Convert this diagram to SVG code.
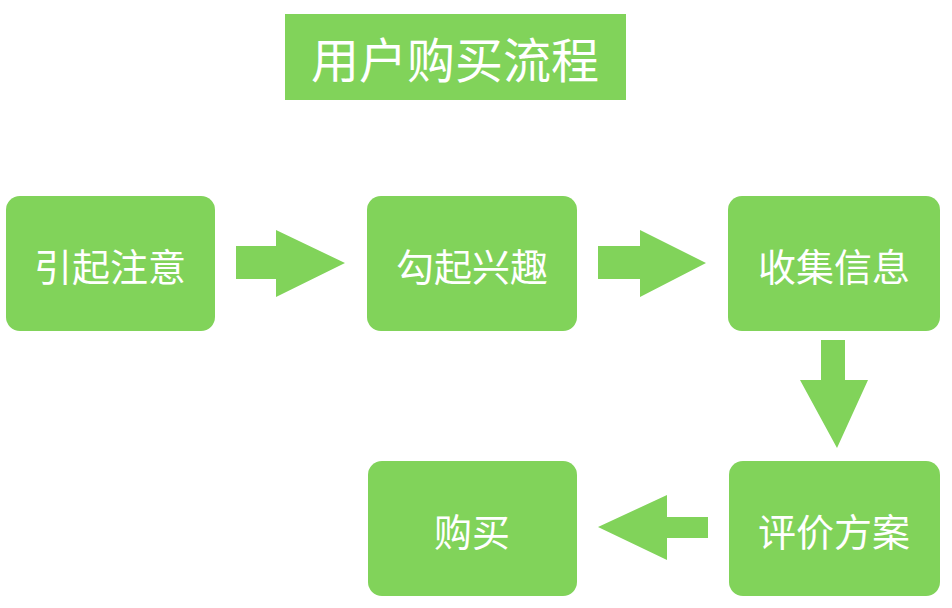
<svg xmlns="http://www.w3.org/2000/svg" width="952" height="608" viewBox="0 0 952 608">
<style>
.b{fill:#81d35a}
.t{fill:#fff;font-family:"Noto Sans CJK SC",sans-serif;font-size:38px;text-anchor:middle;dominant-baseline:central}
</style>
<rect width="952" height="608" fill="#fff"/>
<g id="title"><rect class="b" x="285" y="14" width="341" height="86"/><text class="t" x="455" y="57" style="font-size:48px">用户购买流程</text></g>
<g id="n1"><rect class="b" x="6" y="196" width="209" height="135" rx="14"/><text class="t" x="110" y="264">引起注意</text></g>
<g id="n2"><rect class="b" x="367" y="196" width="210" height="135" rx="14"/><text class="t" x="472" y="264">勾起兴趣</text></g>
<g id="n3"><rect class="b" x="728" y="196" width="212" height="135" rx="14"/><text class="t" x="834" y="264">收集信息</text></g>
<g id="n4"><rect class="b" x="729" y="461" width="211" height="135" rx="14"/><text class="t" x="834" y="529">评价方案</text></g>
<g id="n5"><rect class="b" x="368" y="461" width="209" height="135" rx="14"/><text class="t" x="472" y="529">购买</text></g>
<g id="connectors">
<polygon class="b" points="236,246 276,246 276,230 345,263 276,297 276,279 236,279"/>
<polygon class="b" points="598,246 640,246 640,230 706,263 640,297 640,279 598,279"/>
<polygon class="b" points="821,340 845,340 845,380 868,380 837,448 800,380 821,380"/>
<polygon class="b" points="708,517 667,517 667,495 598,527 667,560 667,538 708,538"/>
</g>
</svg>
